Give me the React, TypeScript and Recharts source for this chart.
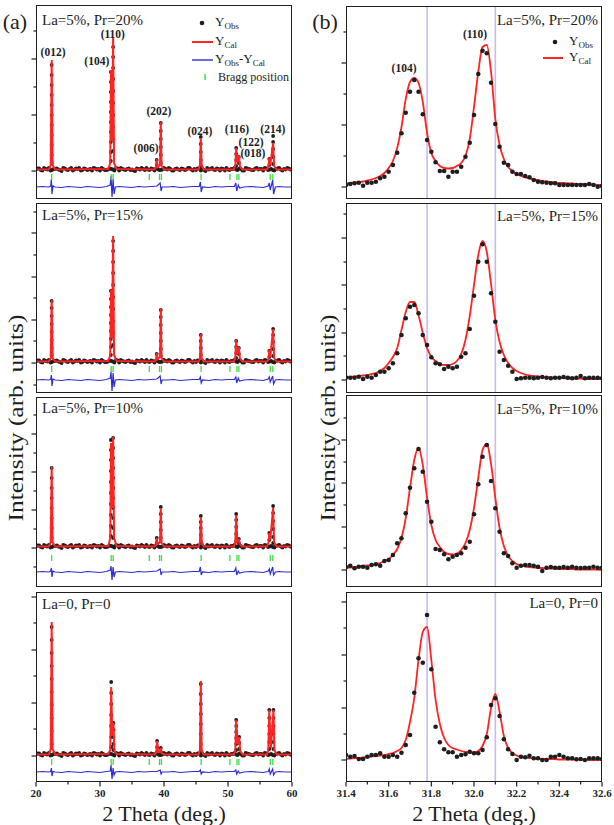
import React from 'react';
import { ComposedChart, Line, Scatter, XAxis, YAxis, ReferenceLine } from 'recharts';

const FONT = '"Liberation Serif", "DejaVu Serif", serif';
const RED = '#ff2323';
const BLUE = '#2d2dd2';
const GREEN = '#3fdc3f';
const INK = '#1e1e1e';
const LAV = '#cbb9ee';

// ---------- (a) full patterns, 2θ 20–60 ----------
const bgTheta = [
  20, 20.5, 21, 21.5, 22, 22.5, 23, 23.5, 24, 24.5, 25, 25.5, 26, 26.5, 27, 27.5, 28, 28.5, 29, 29.5,
  30, 30.5, 31, 31.5, 32, 32.5, 33, 33.5, 34, 34.5, 35, 35.5, 36, 36.5, 37, 37.5, 38, 38.5, 39, 39.5,
  40, 40.5, 41, 41.5, 42, 42.5, 43, 43.5, 44, 44.5, 45, 45.5, 46, 46.5, 47, 47.5, 48, 48.5, 49, 49.5,
  50, 50.5, 51, 51.5, 52, 52.5, 53, 53.5, 54, 54.5, 55, 55.5, 56, 56.5, 57, 57.5, 58, 58.5, 59, 59.5, 60,
];
// background of the observed pattern (the dark band along the base line)
const bgObs = [
  1.5, 2.5, 0.5, 2, 3, 1, 2, 1.5, 0, 2.5, 1, 3, 1.5, 2, 0.5, 2.5, 1, 2, 3, 1.5,
  0.5, 2, 1, 2.5, 1.5, 3, 0.5, 2, 1, 2.5, 1.5, 0, 2, 3, 1, 1.5, 2.5, 0.5, 2, 1,
  3, 1.5, 2, 0.5, 2.5, 1, 2, 1.5, 3, 0.5, 1, 2.5, 2, 0, 1.5, 3, 1, 2, 2.5, 0.5,
  1.5, 2, 3, 1, 2, 0.5, 2.5, 1.5, 1, 3, 2, 0.5, 2.5, 1.5, 1, 2, 3, 0.5, 1.5, 2.5, 1,
];
const bgTheta2 = [
  20.25, 20.75, 21.25, 21.75, 22.25, 22.75, 23.25, 23.75, 24.25, 24.75, 25.25, 25.75, 26.25, 26.75, 27.25, 27.75,
  28.25, 28.75, 29.25, 29.75, 30.25, 30.75, 31.25, 31.75, 32.25, 32.75, 33.25, 33.75, 34.25, 34.75, 35.25, 35.75,
  36.25, 36.75, 37.25, 37.75, 38.25, 38.75, 39.25, 39.75, 40.25, 40.75, 41.25, 41.75, 42.25, 42.75, 43.25, 43.75,
  44.25, 44.75, 45.25, 45.75, 46.25, 46.75, 47.25, 47.75, 48.25, 48.75, 49.25, 49.75, 50.25, 50.75, 51.25, 51.75,
  52.25, 52.75, 53.25, 53.75, 54.25, 54.75, 55.25, 55.75, 56.25, 56.75, 57.25, 57.75, 58.25, 58.75, 59.25, 59.75,
];
const bgObs2 = [
  2.5, 1, 3, 1.5, 0.5, 2, 2.5, 1, 3, 1.5, 2, 0.5, 2.5, 3, 1, 2, 1.5, 0.5, 2.5, 2,
  3, 1, 1.5, 2, 0.5, 2.5, 3, 1.5, 2, 1, 0.5, 2.5, 1.5, 2, 3, 1, 2, 2.5, 1, 1.5,
  2, 3, 0.5, 2, 1.5, 2.5, 1, 3, 1.5, 2, 2.5, 0.5, 1, 3, 2, 1.5, 2.5, 0.5, 2, 3,
  1, 2, 1.5, 2.5, 0.5, 3, 2, 1, 2.5, 1.5, 2, 3, 1, 2, 0.5, 2.5, 1.5, 2, 3, 1.5,
];
const braggTheta = [22.45, 31.75, 32.05, 37.7, 39.3, 39.6, 45.8, 50.3, 51.4, 51.7, 56.6, 57.0];

const calcA1 = [
  [20, 1.5], [22, 1.5], [22.3, 6], [22.45, 111], [22.6, 6], [23, 1.5],
  [31.3, 2], [31.6, 8], [31.72, 101], [31.88, 30], [32.05, 133], [32.2, 8], [32.6, 2],
  [38.5, 1.5], [38.75, 4], [38.86, 12], [39.0, 4], [39.38, 6], [39.5, 49], [39.62, 5], [40, 1.5],
  [45.4, 1.5], [45.62, 6], [45.75, 33], [45.88, 6], [46.2, 1.5],
  [50.9, 1.5], [51.15, 6], [51.28, 23], [51.45, 9], [51.7, 16], [51.85, 5], [52.2, 1.5],
  [56.1, 1.5], [56.35, 5], [56.45, 13], [56.6, 6], [57.05, 28], [57.2, 5], [57.6, 1.5], [60, 1.5],
];
const peaksA1: [number, number[]][] = [
  [22.45, [106, 96, 86, 76, 66, 56, 46, 36, 26, 16, 8]],
  [31.7, [99, 89, 79, 69, 59, 49, 39, 29, 19, 10]],
  [32.05, [124, 114, 103, 92, 80, 68, 56, 44, 32, 20]],
  [38.86, [11, 6]],
  [39.5, [48, 40, 32, 24, 16, 8]],
  [45.75, [34, 27, 19, 11, 5]],
  [51.28, [23, 17, 11, 5]],
  [51.7, [14, 8]],
  [56.45, [12, 6]],
  [57.05, [35, 29, 22, 14, 7]],
];
const diffA1 = [
  [20, -16], [21, -15.5], [22, -16], [22.3, -15], [22.4, -8], [22.5, -23], [22.65, -15], [23, -16], [24, -16.5],
  [25, -15.5], [26, -16], [27, -16.5], [28, -15.5], [29, -16], [30, -16.5], [31, -15.5], [31.6, -14], [31.72, -5],
  [31.88, -26], [32.05, -8], [32.2, -23], [32.4, -16], [33, -15.5], [34, -16], [35, -16.5], [36, -15.5], [37, -16],
  [38, -15.5], [38.9, -15], [39.4, -12], [39.55, -20], [39.7, -16], [40.5, -16], [41.5, -15.5], [42.5, -16.5],
  [43.5, -16], [44.5, -15.5], [45.5, -15.5], [45.68, -11], [45.82, -21], [46, -16], [47, -16.5], [48, -15.5],
  [49, -16], [50, -15.5], [51, -15.5], [51.22, -12], [51.36, -20], [51.6, -14], [51.8, -17], [52.5, -16],
  [53.5, -15.5], [54.5, -16], [55.5, -16.5], [56.3, -15], [56.45, -12], [56.6, -19], [56.98, -9], [57.12, -23],
  [57.4, -16], [58, -15.5], [59, -16], [60, -16],
];
const labelsA1: [number, number, string][] = [
  [22.66, 119, '(012)'], [29.5, 110, '(104)'], [32.0, 137, '(110)'], [37.2, 23, '(006)'], [39.2, 60, '(202)'],
  [45.6, 40, '(024)'], [51.4, 42, '(116)'], [53.6, 29, '(122)'], [53.9, 18, '(018)'], [57.0, 42, '(214)'],
];

const calcA2 = [
  [20, 1.5], [22, 1.5], [22.3, 5], [22.45, 63], [22.6, 5], [23, 1.5],
  [31.3, 2], [31.6, 8], [31.72, 73], [31.88, 25], [32.05, 127], [32.2, 8], [32.6, 2],
  [38.5, 1.5], [38.75, 3], [38.86, 10], [39.0, 4], [39.38, 6], [39.5, 55], [39.62, 5], [40, 1.5],
  [45.4, 1.5], [45.62, 5], [45.75, 29], [45.88, 5], [46.2, 1.5],
  [50.9, 1.5], [51.15, 5], [51.28, 23], [51.45, 9], [51.7, 16], [51.85, 5], [52.2, 1.5],
  [56.1, 1.5], [56.35, 4], [56.45, 13], [56.6, 6], [57.05, 34], [57.2, 5], [57.6, 1.5], [60, 1.5],
];
const peaksA2: [number, number[]][] = [
  [22.45, [62, 55, 47, 39, 31, 23, 15, 8]],
  [31.7, [72, 64, 56, 48, 40, 32, 24, 16, 8]],
  [32.05, [122, 112, 101, 90, 78, 66, 54, 42, 30, 18]],
  [38.86, [9]],
  [39.5, [53, 46, 38, 30, 22, 14, 7]],
  [45.75, [28, 22, 15, 8]],
  [51.28, [22, 16, 10, 5]],
  [51.7, [15, 9]],
  [56.45, [12, 6]],
  [57.05, [34, 28, 21, 14, 7]],
];
const diffA2 = [
  [20, -17], [21, -16.5], [22, -17], [22.3, -16], [22.4, -12], [22.5, -23], [22.65, -16], [23, -17], [24, -17.5],
  [25, -16.5], [26, -17], [27, -17.5], [28, -16.5], [29, -17], [30, -17.5], [31, -16.5], [31.6, -15], [31.72, -9],
  [31.88, -28], [32.05, -10], [32.2, -24], [32.4, -17], [33, -16.5], [34, -17], [35, -17.5], [36, -16.5], [37, -17],
  [38, -16.5], [38.9, -16], [39.4, -13], [39.55, -21], [39.7, -17], [40.5, -17], [41.5, -16.5], [42.5, -17.5],
  [43.5, -17], [44.5, -16.5], [45.5, -16.5], [45.68, -14], [45.82, -20], [46, -17], [47, -17.5], [48, -16.5],
  [49, -17], [50, -16.5], [51, -16.5], [51.22, -14], [51.36, -20], [51.6, -15], [51.8, -18], [52.5, -17],
  [53.5, -16.5], [54.5, -17], [55.5, -17.5], [56.3, -16], [56.45, -14], [56.6, -19], [56.98, -13], [57.12, -21],
  [57.4, -17], [58, -16.5], [59, -17], [60, -17],
];

const calcA3 = [
  [20, 1.5], [22, 1.5], [22.3, 6], [22.45, 81], [22.6, 6], [23, 1.5],
  [31.3, 2], [31.6, 10], [31.72, 105], [31.88, 40], [32.05, 111], [32.2, 10], [32.6, 2],
  [38.5, 1.5], [38.75, 3], [38.86, 10], [39.0, 4], [39.38, 6], [39.5, 40], [39.62, 5], [40, 1.5],
  [45.4, 1.5], [45.62, 6], [45.75, 31], [45.9, 7], [46.0, 5], [46.2, 1.5],
  [50.9, 1.5], [51.15, 6], [51.28, 33], [51.45, 6], [51.7, 8], [51.85, 4], [52.2, 1.5],
  [56.1, 1.5], [56.35, 6], [56.45, 15], [56.6, 8], [57.05, 40], [57.2, 6], [57.6, 1.5], [60, 1.5],
];
const peaksA3: [number, number[]][] = [
  [22.45, [80, 70, 60, 50, 40, 30, 20, 10]],
  [31.7, [108, 98, 88, 77, 66, 55, 44, 33, 22, 12]],
  [32.05, [110, 100, 90, 80, 70, 60, 50, 40, 30, 20, 10]],
  [38.86, [10, 5]],
  [39.5, [41, 34, 26, 18, 10]],
  [45.75, [32, 26, 20, 13, 6]],
  [51.28, [34, 28, 21, 14, 7]],
  [51.7, [9, 5]],
  [56.45, [15, 8]],
  [57.05, [42, 35, 27, 19, 11, 5]],
];
const diffA3 = [
  [20, -24], [21, -23.5], [22, -24], [22.3, -23], [22.4, -20], [22.5, -29], [22.65, -23], [23, -24], [24, -24.5],
  [25, -23.5], [26, -24], [27, -24.5], [28, -23.5], [29, -24], [30, -24.5], [31, -23.5], [31.6, -22], [31.72, -18],
  [31.88, -32], [32.05, -19], [32.2, -29], [32.4, -24], [33, -23.5], [34, -24], [35, -24.5], [36, -23.5], [37, -24],
  [38, -23.5], [38.9, -23], [39.4, -21], [39.55, -27], [39.7, -24], [40.5, -24], [41.5, -23.5], [42.5, -24.5],
  [43.5, -24], [44.5, -23.5], [45.5, -23.5], [45.68, -19], [45.82, -27], [46, -24], [47, -24.5], [48, -23.5],
  [49, -24], [50, -23.5], [51, -23.5], [51.22, -20], [51.36, -27], [51.6, -23], [51.8, -25], [52.5, -24],
  [53.5, -23.5], [54.5, -24], [55.5, -24.5], [56.3, -23], [56.45, -21], [56.6, -26], [56.98, -19], [57.12, -27],
  [57.4, -24], [58, -23.5], [59, -24], [60, -24],
];

const calcA4 = [
  [20, 1.5], [22, 1.5], [22.3, 7], [22.45, 134], [22.6, 7], [23, 1.5],
  [31.3, 2], [31.6, 6], [31.75, 69], [31.92, 20], [32.1, 33], [32.25, 5], [32.6, 2],
  [38.6, 1.5], [38.8, 4], [38.92, 15], [39.1, 4], [39.4, 4], [39.5, 8], [39.62, 3], [40, 1.5],
  [45.4, 1.5], [45.62, 6], [45.75, 75], [45.88, 6], [46.2, 1.5],
  [50.9, 1.5], [51.15, 6], [51.28, 36], [51.5, 12], [51.75, 19], [51.9, 5], [52.3, 1.5],
  [56.1, 1.5], [56.3, 6], [56.45, 46], [56.7, 8], [57.1, 46], [57.25, 6], [57.6, 1.5], [60, 1.5],
];
const peaksA4: [number, number[]][] = [
  [22.45, [129, 116, 103, 90, 77, 64, 51, 38, 25, 12]],
  [31.75, [74, 63, 52, 41, 30, 19, 9]],
  [32.1, [33, 26, 19, 12, 6]],
  [38.92, [15, 9, 4]],
  [39.5, [8, 4]],
  [45.75, [72, 62, 52, 42, 32, 22, 12, 5]],
  [51.28, [36, 30, 24, 18, 12, 6]],
  [51.75, [19, 13, 7]],
  [56.45, [46, 38, 30, 22, 14, 7]],
  [57.1, [46, 38, 30, 22, 14, 7]],
];
const diffA4 = [
  [20, -16], [21, -15.5], [22, -16], [22.3, -15.5], [22.4, -12], [22.5, -20], [22.65, -15.5], [23, -16], [24, -16.5],
  [25, -15.5], [26, -16], [27, -16.5], [28, -15.5], [29, -16], [30, -16.5], [31, -15.5], [31.6, -15], [31.72, -9],
  [31.88, -23], [32.05, -12], [32.2, -19], [32.4, -16], [33, -15.5], [34, -16], [35, -16.5], [36, -15.5], [37, -16],
  [38, -15.5], [38.9, -15.5], [39.4, -14], [39.55, -18], [39.7, -16], [40.5, -16], [41.5, -15.5], [42.5, -16.5],
  [43.5, -16], [44.5, -15.5], [45.5, -15.5], [45.68, -14], [45.82, -18], [46, -16], [47, -16.5], [48, -15.5],
  [49, -16], [50, -15.5], [51, -15.5], [51.22, -14], [51.36, -18], [51.6, -15], [51.8, -17], [52.5, -16],
  [53.5, -15.5], [54.5, -16], [55.5, -16.5], [56.3, -15.5], [56.45, -13], [56.6, -18], [56.98, -13], [57.12, -19],
  [57.4, -16], [58, -15.5], [59, -16], [60, -16],
];

const xTicksA = [20, 25, 30, 35, 40, 45, 50, 55, 60];
const xMajorsA = [20, 30, 40, 50, 60];

// ---------- (b) zoom on (104)/(110), 2θ 31.4–32.6 ----------
const thetaB = [
  31.4, 31.42, 31.44, 31.46, 31.48, 31.5, 31.52, 31.54, 31.56, 31.58, 31.6, 31.62, 31.64, 31.66, 31.68, 31.7,
  31.72, 31.74, 31.76, 31.78, 31.8, 31.82, 31.84, 31.86, 31.88, 31.9, 31.92, 31.94, 31.96, 31.98, 32.0, 32.02,
  32.04, 32.06, 32.08, 32.1, 32.12, 32.14, 32.16, 32.18, 32.2, 32.22, 32.24, 32.26, 32.28, 32.3, 32.32, 32.34,
  32.36, 32.38, 32.4, 32.42, 32.44, 32.46, 32.48, 32.5, 32.52, 32.54, 32.56, 32.58, 32.6,
];
const obsB1 = [
  2, 3, 3.7, 4.3, 1.3, 4.3, 4.3, 5.3, 8.7, 10.3, 15.3, 22, 34.3, 53.7, 74.3, 95.3, 107, 95.3, 72.7, 47,
  35.3, 24.7, 16, 16, 10.3, 15.3, 15.3, 20.3, 30.3, 44.3, 72, 113, 136.3, 133.7, 104.3, 63, 40.3, 24.3, 22, 15.3,
  13, 13, 11, 9.7, 7, 5.3, 4.7, 4.3, 3.7, 3.7, 2, 2, 2, 2, 2, 2, 2, 3, 2, 0.3, 1,
];
const calB1 = [
  3.5, 4, 4.5, 5, 5.5, 6.5, 7.5, 9, 11, 14, 19, 26, 39, 60, 88, 105, 109, 104, 85, 54,
  34, 26, 21, 19, 18.5, 19, 21, 24, 31, 48, 80, 115, 140, 142, 115, 68, 42, 28, 20, 16,
  13, 11, 9.5, 8.5, 7.5, 7, 6, 5.5, 5, 4.5, 4, 4, 3.5, 3.5, 3, 3, 3, 2.5, 2.5, 2, 2,
];
const obsB2 = [
  2.5, 2.3, 2.3, 3.3, 1, 3.3, 2.3, 5, 8.3, 8.3, 11.7, 16.7, 26.7, 45, 61.7, 73.3, 75, 66.7, 45, 35,
  22.7, 16.7, 15.7, 11, 13.3, 11.7, 13.3, 23.3, 26.7, 51, 84.3, 118.3, 135.7, 118.3, 86.7, 58.3, 28.3, 20, 14.3, 8.3,
  1, 1.7, 2.3, 2.3, 1.7, 2.3, 3, 2.3, 1.7, 2.3, 2.3, 3, 2.3, 1.7, 2.3, 4, 1.7, 2.3, 2.3, 2.3, 1.7,
];
const calB2 = [
  2.5, 3, 3.5, 4, 4.5, 5, 6, 7, 9, 12, 17, 23, 32, 50, 68, 78, 78, 65, 47, 32,
  23, 19, 16, 15, 15, 16, 19, 26, 40, 64, 95, 125, 139, 128, 96, 60, 38, 25, 17, 12,
  9, 7, 5.5, 4.5, 4, 3.5, 3, 2.5, 2.5, 2, 2, 2, 1.5, 1.5, 1.5, 1.5, 1, 1, 1, 1, 1,
];
const obsB3 = [
  3, 4.3, 1.7, 3.3, 3.3, 2.3, 5, 5.7, 4.3, 9, 10, 15, 26.7, 31.7, 56.7, 82.3, 101.7, 121, 98.3, 68.3,
  48.3, 21, 20, 15.7, 10.7, 13.3, 15, 16.7, 22.3, 28.3, 55.7, 85.7, 113.3, 125, 89, 61.7, 38.3, 16.7, 14, 6.7,
  2.3, 4.3, 5, 5, 4.3, 3.3, -1, 2.3, 3, 2.3, 2.3, 3, 2.3, 3.3, 2.3, 2, 2.3, 2.3, 3.3, 2.3, 2.3,
];
const calB3 = [
  2, 2.5, 3, 3.5, 4, 4.5, 5, 6, 7, 9, 11, 15, 21, 32, 52, 82, 110, 122, 105, 72,
  45, 30, 23, 18, 16, 15.5, 16.5, 20, 27, 40, 62, 92, 120, 126, 106, 72, 42, 24, 14, 9,
  6, 4.5, 3.5, 3, 2.5, 2, 2, 1.5, 1.5, 1.5, 1, 1, 1, 1, 0.5, 0.5, 0.5, 0.5, 0.5, 0.5, 0,
];
const obsB4 = [
  5, 3.3, 4, 1, 1, 3.3, 5, 5, 6.7, 3.3, 3.3, 5, 3.3, 7.3, 15, 25, 67.3, 101.7, 97.3, 145,
  90.7, 33.3, 17.7, 10.7, 7.7, 7.7, 3.3, 5, 5.7, 8.3, 6.7, 6.7, 10, 22.7, 55, 61.7, 44, 20.7, 10.7, 6,
  0, 3.3, 2.7, 4.3, 1.7, 1.7, 0, 0, 3.3, 3.3, 5, 3.3, 1.7, 1.7, 0.7, 1, 0, 1.7, 1.7, 1.7, 1,
];
const calB4 = [
  1, 1.5, 2, 2, 2.5, 3, 3.5, 4, 4.5, 5, 6, 7, 9, 12, 20, 38, 62, 100, 128, 133,
  100, 60, 36, 22, 15, 12, 10.5, 9, 8, 7.5, 7.5, 9, 14, 26, 52, 66, 48, 24, 12, 7,
  4.5, 3, 2.5, 2, 1.5, 1.5, 1, 1, 1, 1, 0.5, 0.5, 0.5, 0.5, 0.5, 0.5, 0, 0, 0, 0, 0,
];
const labelsB1: [number, number, string][] = [[31.672, 119, '(104)'], [32.005, 153, '(110)']];
const refLinesB = [31.78, 32.1];
const xTicksB = [31.4, 31.5, 31.6, 31.7, 31.8, 31.9, 32.0, 32.1, 32.2, 32.3, 32.4, 32.5, 32.6];
const xMajorsB = [31.4, 31.6, 31.8, 32.0, 32.2, 32.4, 32.6];

type P = { t: number; y: number; s?: string };
const toPts = (a: number[][]): P[] => a.map(([t, y]) => ({ t, y }));
const zip = (ts: number[], ys: number[]): P[] => ts.map((t, i) => ({ t, y: ys[i] }));
const toCols = (c: [number, number[]][]): P[] => c.flatMap(([t, ys]) => ys.map((y) => ({ t, y })));
const toLabels = (a: [number, number, string][]): P[] => a.map(([t, y, s]) => ({ t, y, s }));
const near = (list: number[], v: number) => list.some((m) => Math.abs(m - v) < 1e-6);

const yTick = (majors: number[]) => (p: any) => {
  const len = near(majors, p.payload.value) ? 4.5 : 2.5;
  return <line x1={p.x - len} x2={p.x} y1={p.y} y2={p.y} stroke={INK} strokeWidth={1.2} />;
};
const xTick = (majors: number[], fmt: (v: number) => string) => (p: any) => {
  const v = p.payload.value;
  const maj = near(majors, v);
  return (
    <g>
      <line x1={p.x} x2={p.x} y1={p.y} y2={p.y + (maj ? 4.5 : 2.5)} stroke={INK} strokeWidth={1.2} />
      {maj && (
        <text x={p.x} y={p.y + 15} textAnchor="middle" fontSize={11} fontWeight="bold" fontFamily={FONT} fill={INK}>
          {fmt(v)}
        </text>
      )}
    </g>
  );
};

const dot = (r: number) => (p: any) => <circle cx={p.cx} cy={p.cy} r={r} fill={INK} />;
const braggShape = (p: any) => <line x1={p.cx} x2={p.cx} y1={p.cy - 3} y2={p.cy + 3} stroke={GREEN} strokeWidth={1.3} />;
const labelShape = (p: any) => (
  <text x={p.cx} y={p.cy} textAnchor="middle" dominantBaseline="central" fontSize={11.5} fontWeight="bold" fontFamily={FONT} fill={INK}>
    {p.payload?.s ?? p.s}
  </text>
);

const Frame = ({ left, top, width, height }: any) => (
  <div style={{ position: 'absolute', left, top, width, height, border: `1.6px solid ${INK}`, boxSizing: 'border-box', pointerEvents: 'none' }} />
);

const LeftPanel = ({ top, height, lo, calc, peaks, diff, braggY, ticks, majors, labels, bottom }: any) => {
  const obs = [...zip(bgTheta, bgObs), ...zip(bgTheta2, bgObs2), ...toCols(peaks)];
  const bragg = braggTheta.map((t) => ({ t, y: braggY }));
  return (
    <>
      <div style={{ position: 'absolute', left: 26, top }}>
        <ComposedChart width={280} height={height + (bottom ? 30 : 0)} margin={{ top: 0, right: 14, bottom: 0, left: 0 }}>
          <XAxis type="number" dataKey="t" domain={[20, 60]} allowDataOverflow hide={!bottom} ticks={xTicksA} interval={0}
            tick={xTick(xMajorsA, (v) => String(v))} tickLine={false} axisLine={false} tickSize={0} tickMargin={0} height={30} />
          <YAxis type="number" dataKey="y" domain={[lo, lo + height]} allowDataOverflow ticks={ticks} interval={0}
            tick={yTick(majors)} tickLine={false} axisLine={false} tickSize={0} tickMargin={0} width={10} />
          <Scatter data={obs} shape={dot(1.9)} isAnimationActive={false} zIndex={300} />
          <Scatter data={bragg} shape={braggShape} isAnimationActive={false} />
          <Line data={toPts(diff)} dataKey="y" type="linear" stroke={BLUE} strokeWidth={1.2} dot={false} activeDot={false} isAnimationActive={false} />
          <Line data={toPts(calc)} dataKey="y" type="linear" stroke={RED} strokeWidth={2} dot={false} activeDot={false} isAnimationActive={false} zIndex={700} />
          {labels && <Scatter data={toLabels(labels)} shape={labelShape} isAnimationActive={false} />}
        </ComposedChart>
      </div>
      <Frame left={36} top={top} width={256} height={height} />
    </>
  );
};

const RightPanel = ({ top, height, lo, obs, cal, ticks, majors, labels, bottom }: any) => (
  <>
    <div style={{ position: 'absolute', left: 336, top }}>
      <ComposedChart width={280} height={height + (bottom ? 30 : 0)} margin={{ top: 0, right: 14, bottom: 0, left: 0 }}>
        <XAxis type="number" dataKey="t" domain={[31.4, 32.6]} allowDataOverflow hide={!bottom} ticks={xTicksB} interval={0}
          tick={xTick(xMajorsB, (v) => v.toFixed(1))} tickLine={false} axisLine={false} tickSize={0} tickMargin={0} height={30} />
        <YAxis type="number" dataKey="y" domain={[lo, lo + height]} allowDataOverflow ticks={ticks} interval={0}
          tick={yTick(majors)} tickLine={false} axisLine={false} tickSize={0} tickMargin={0} width={10} />
        {refLinesB.map((x) => (
          <ReferenceLine key={x} x={x} stroke={LAV} strokeWidth={1.6} />
        ))}
        <Line data={zip(thetaB, cal)} dataKey="y" type="monotone" stroke={RED} strokeWidth={1.8} dot={false} activeDot={false} isAnimationActive={false} />
        <Scatter data={zip(thetaB, obs)} shape={dot(2.3)} isAnimationActive={false} />
        {labels && <Scatter data={toLabels(labels)} shape={labelShape} isAnimationActive={false} />}
      </ComposedChart>
    </div>
    <Frame left={346} top={top} width={256} height={height} />
  </>
);

const Sub = ({ children }: any) => (
  <tspan fontSize={9} dy={3}>{children}</tspan>
);

export default function App() {
  const txt = { fontFamily: FONT, fill: INK } as const;
  return (
    <div style={{ position: 'absolute', left: 0, top: 0, width: 614, height: 825, background: '#fff', overflow: 'hidden' }}>
      <LeftPanel top={5} height={194} lo={-28} calc={calcA1} peaks={peaksA1} diff={diffA1} braggY={-6}
        ticks={[0, 28, 56, 84, 112, 140]} majors={[0, 56, 112]} labels={labelsA1} />
      <LeftPanel top={203} height={190} lo={-30} calc={calcA2} peaks={peaksA2} diff={diffA2} braggY={-6}
        ticks={[-22, 0, 22, 43, 65, 86, 108, 130, 151]} majors={[0, 43, 86, 130]} />
      <LeftPanel top={397} height={190} lo={-39} calc={calcA3} peaks={peaksA3} diff={diffA3} braggY={-10}
        ticks={[-19, 0, 19, 38, 57, 76, 95, 114, 133]} majors={[0, 38, 76, 114]} />
      <LeftPanel top={592} height={190} lo={-26} calc={calcA4} peaks={peaksA4} diff={diffA4} braggY={-6}
        ticks={[0, 27, 53, 80, 106, 133, 159]} majors={[0, 53, 106, 159]} bottom />

      <RightPanel top={6} height={193} lo={-12} obs={obsB1} cal={calB1}
        ticks={[0, 31, 62, 93, 124, 155]} majors={[0, 62, 124]} labels={labelsB1} />
      <RightPanel top={203} height={190} lo={-13} obs={obsB2} cal={calB2}
        ticks={[0, 24, 47, 71, 95, 118, 142, 166]} majors={[0, 47, 95, 142]} />
      <RightPanel top={395} height={192} lo={-17} obs={obsB3} cal={calB3}
        ticks={[0, 22, 43, 65, 87, 108, 130, 152]} majors={[0, 43, 87, 130]} />
      <RightPanel top={592} height={190} lo={-22} obs={obsB4} cal={calB4}
        ticks={[0, 26, 52, 79, 105, 132, 158]} majors={[0, 52, 105, 158]} bottom />

      <svg width={614} height={825} style={{ position: 'absolute', left: 0, top: 0, pointerEvents: 'none' }}>
        <g {...txt}>
          <text x={15} y={21} fontSize={22} textAnchor="middle" dominantBaseline="central">(a)</text>
          <text x={325} y={21} fontSize={22} textAnchor="middle" dominantBaseline="central">(b)</text>

          <text x={42} y={20} fontSize={15} dominantBaseline="central">La=5%, Pr=20%</text>
          <text x={42} y={215} fontSize={15} dominantBaseline="central">La=5%, Pr=15%</text>
          <text x={42} y={408} fontSize={15} dominantBaseline="central">La=5%, Pr=10%</text>
          <text x={42} y={604} fontSize={15} dominantBaseline="central">La=0, Pr=0</text>
          <text x={598} y={20} fontSize={15} textAnchor="end" dominantBaseline="central">La=5%, Pr=20%</text>
          <text x={598} y={216} fontSize={15} textAnchor="end" dominantBaseline="central">La=5%, Pr=15%</text>
          <text x={598} y={409} fontSize={15} textAnchor="end" dominantBaseline="central">La=5%, Pr=10%</text>
          <text x={598} y={603} fontSize={15} textAnchor="end" dominantBaseline="central">La=0, Pr=0</text>

          {/* legend (a) */}
          <circle cx={202} cy={23} r={2.3} fill={INK} />
          <text x={215} y={22} fontSize={13}>
            <tspan dy={4}>Y</tspan><Sub>Obs</Sub>
          </text>
          <line x1={192} x2={213} y1={42} y2={42} stroke={RED} strokeWidth={2} />
          <text x={215} y={41} fontSize={13}>
            <tspan dy={4}>Y</tspan><Sub>Cal</Sub>
          </text>
          <line x1={192} x2={213} y1={60} y2={60} stroke={BLUE} strokeWidth={1.4} />
          <text x={215} y={59} fontSize={13}>
            <tspan dy={4}>Y</tspan><Sub>Obs</Sub><tspan dy={-3}>-Y</tspan><Sub>Cal</Sub>
          </text>
          <line x1={205} x2={205} y1={74} y2={80} stroke={GREEN} strokeWidth={1.4} />
          <text x={218} y={77} fontSize={12} dominantBaseline="central">Bragg position</text>

          {/* legend (b) */}
          <circle cx={555} cy={42} r={2.3} fill={INK} />
          <text x={569} y={41} fontSize={13}>
            <tspan dy={4}>Y</tspan><Sub>Obs</Sub>
          </text>
          <line x1={543} x2={563} y1={58} y2={58} stroke={RED} strokeWidth={2} />
          <text x={569} y={57} fontSize={13}>
            <tspan dy={4}>Y</tspan><Sub>Cal</Sub>
          </text>

          <text transform="translate(15,418) rotate(-90)" fontSize={22} textAnchor="middle" dominantBaseline="central"
            textLength={207} lengthAdjust="spacingAndGlyphs">Intensity (arb. units)</text>
          <text transform="translate(327,418) rotate(-90)" fontSize={22} textAnchor="middle" dominantBaseline="central"
            textLength={207} lengthAdjust="spacingAndGlyphs">Intensity (arb. units)</text>

          <text x={164} y={813} fontSize={22} textAnchor="middle" dominantBaseline="central">2 Theta (deg.)</text>
          <text x={474} y={813} fontSize={22} textAnchor="middle" dominantBaseline="central">2 Theta (deg.)</text>
        </g>
      </svg>
    </div>
  );
}
